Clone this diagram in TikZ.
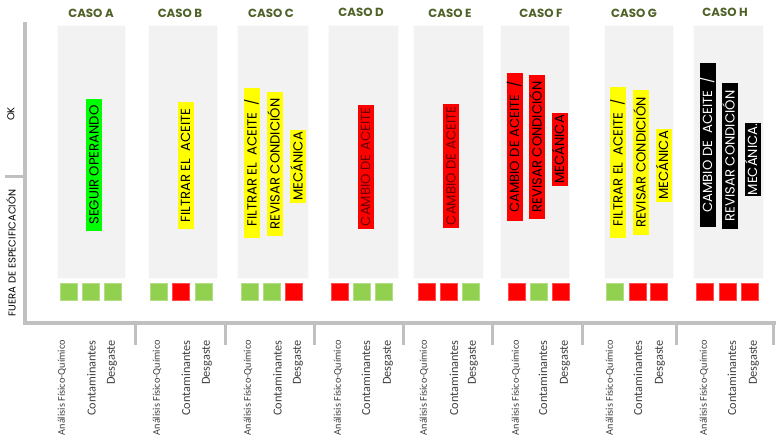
\documentclass[tikz,border=0pt]{standalone}
\usepackage{fontspec}
\setmainfont{Poppins}
\newfontfamily\carlito{Carlito}
\definecolor{panelgray}{HTML}{F2F2F2}
\definecolor{axisgray}{HTML}{C0C0C0}
\definecolor{sqgreen}{HTML}{92D050}
\definecolor{sqred}{HTML}{FF0000}
\definecolor{hlgreen}{HTML}{00FF00}
\definecolor{hlyellow}{HTML}{FFFF00}
\definecolor{hlred}{HTML}{FF0000}
\definecolor{headgreen}{HTML}{4F6228}
\definecolor{lblgray}{HTML}{404040}
\definecolor{dtext}{HTML}{6A0000}
\begin{document}
\begin{tikzpicture}[x=1pt,y=-1pt,
  panel/.style={fill=panelgray,draw=white!60!panelgray,line width=0.8pt},
  sqbox/.style={minimum size=17pt,inner sep=0pt,line width=0.6pt},
  gsq/.style={sqbox,fill=sqgreen,draw=sqgreen!70!white},
  rsq/.style={sqbox,fill=sqred,draw=sqred!70!white},
  act/.style={rotate=90,inner sep=0pt,minimum height=16pt,text height=9.4pt,text depth=0pt,font=\fontsize{13.2}{14}\selectfont},
  head/.style={font=\fontsize{11.8}{12}\selectfont\bfseries,text=headgreen,inner sep=0pt},
  bl/.style={rotate=90,anchor=east,inner sep=0pt,text=lblgray},
  bla/.style={bl,font=\carlito\fontsize{10.3}{11}\selectfont},
  blb/.style={bl,font=\carlito\fontsize{12.3}{13}\selectfont},
  axis/.style={draw=axisgray,line width=3.5pt},
  tick/.style={draw=axisgray,line width=3pt},
  side/.style={rotate=90,inner sep=0pt,font=\fontsize{10}{11}\selectfont}]
\useasboundingbox[fill=white] (0,0) rectangle (776,447);

% axes
\coordinate (vt) at (25,22);
\coordinate (vb) at (25,323);
\coordinate (hr) at (776,323);
\draw[axis] (vt) -- (vb) -- (hr);
\coordinate (lt0) at (5,176);
\coordinate (lt1) at (25,176);
\draw[tick] (lt0) -- (lt1);
\foreach \x [count=\i] in {135,225,314,403,492,582,676,773}{
  \coordinate (t\i a) at (\x,323);
  \coordinate (t\i b) at (\x,345);
  \draw[tick] (t\i a) -- (t\i b);
}

% side labels
\node[side] (ok) at (11,114) {OK};
\node[side] (fuera) at (11,253) {FUERA DE ESPECIFICACIÓN};

% panels
\foreach \l/\a/\b in {A/57/125,B/148/217,C/237/308,D/328/398,E/413/483,F/500/569,G/604/673,H/693/763}{
  \node[panel,inner sep=0pt,minimum width=\b-\a,minimum height=253] (p\l) at ({(\a+\b)/2},151.5) {};
}

% headers
\node[head] (hA) at (91,13) {CASO A};
\node[head] (hB) at (180,13) {CASO B};
\node[head] (hC) at (271,13) {CASO C};
\node[head] (hD) at (361,12) {CASO D};
\node[head] (hE) at (450,13) {CASO E};
\node[head] (hF) at (541,13) {CASO F};
\node[head] (hG) at (634,13) {CASO G};
\node[head] (hH) at (725,12) {CASO H};

% squares
\node[gsq] (sA1) at (68.5,291.5) {};
\node[gsq] (sA2) at (91,291.5) {};
\node[gsq] (sA3) at (112.5,291.5) {};
\node[gsq] (sB1) at (158.5,291.5) {};
\node[rsq] (sB2) at (180.5,291.5) {};
\node[gsq] (sB3) at (203.5,291.5) {};
\node[gsq] (sC1) at (249.5,291.5) {};
\node[gsq] (sC2) at (271.5,291.5) {};
\node[rsq] (sC3) at (293.5,291.5) {};
\node[rsq] (sD1) at (339.5,291.5) {};
\node[gsq] (sD2) at (361.5,291.5) {};
\node[gsq] (sD3) at (383.5,291.5) {};
\node[rsq] (sE1) at (426.5,291.5) {};
\node[rsq] (sE2) at (448.5,291.5) {};
\node[gsq] (sE3) at (470.5,291.5) {};
\node[rsq] (sF1) at (516.5,291.5) {};
\node[gsq] (sF2) at (538.5,291.5) {};
\node[rsq] (sF3) at (560.5,291.5) {};
\node[gsq] (sG1) at (614.5,291.5) {};
\node[rsq] (sG2) at (637.5,291.5) {};
\node[rsq] (sG3) at (658.5,291.5) {};
\node[rsq] (sH1) at (704.5,291.5) {};
\node[rsq] (sH2) at (727.5,291.5) {};
\node[rsq] (sH3) at (749.5,291.5) {};

% actions
\node[act,fill=hlgreen,minimum width=132pt] (aA) at (94,165) {SEGUIR OPERANDO};
\node[act,fill=hlyellow,minimum width=127pt] (aB) at (185.5,165.5) {FILTRAR EL\ \ ACEITE};
\node[act,fill=hlyellow,minimum width=150pt] (aC1) at (252,163) {FILTRAR EL\ \ ACEITE\ \ /};
\node[act,fill=hlyellow,minimum width=144pt] (aC2) at (275,164) {REVISAR CONDICIÓN};
\node[act,fill=hlyellow,minimum width=73pt] (aC3) at (298,166.5) {MECÁNICA};
\node[act,fill=hlred,text=dtext,minimum width=124pt] (aD) at (365.5,167) {CAMBIO DE ACEITE};
\node[act,fill=hlred,text=dtext,minimum width=124pt] (aE) at (451,166) {CAMBIO DE ACEITE};
\node[act,fill=hlred,minimum width=148pt] (aF1) at (514.5,147) {CAMBIO DE ACEITE\ \ /};
\node[act,fill=hlred,minimum width=144pt] (aF2) at (537,147) {REVISAR CONDICIÓN};
\node[act,fill=hlred,minimum width=73pt] (aF3) at (559.5,149.5) {MECÁNICA};
\node[act,fill=hlyellow,minimum width=151pt] (aG1) at (618,162.5) {FILTRAR EL\ \ ACEITE\ \ /};
\node[act,fill=hlyellow,minimum width=145pt] (aG2) at (641,162.5) {REVISAR CONDICIÓN};
\node[act,fill=hlyellow,minimum width=73pt] (aG3) at (663.5,165.5) {MECÁNICA};
\node[act,fill=black,text=white,minimum width=164pt] (aH1) at (707.5,145) {CAMBIO DE\ \ ACEITE\ \ /};
\node[act,fill=black,text=white,minimum width=146pt] (aH2) at (730,156) {REVISAR CONDICIÓN};
\node[act,fill=black,text=white,minimum width=73pt] (aH3) at (752.5,159.5) {MECÁNICA.};

% bottom labels
\foreach \l/\xa/\xb/\xc in {A/62/91.5/112,B/157/186/207,C/248/277.5/298,D/338/366/388,E/424/454/473,F/516/543/565,G/610/638/660,H/704/732/754}{
  \node[bla] (q\l 1) at (\xa,340) {Análisis Físico-Químico};
  \node[blb] (q\l 2) at (\xb,340) {Contaminantes};
  \node[blb] (q\l 3) at (\xc,340) {Desgaste};
}
\end{tikzpicture}
\end{document}
